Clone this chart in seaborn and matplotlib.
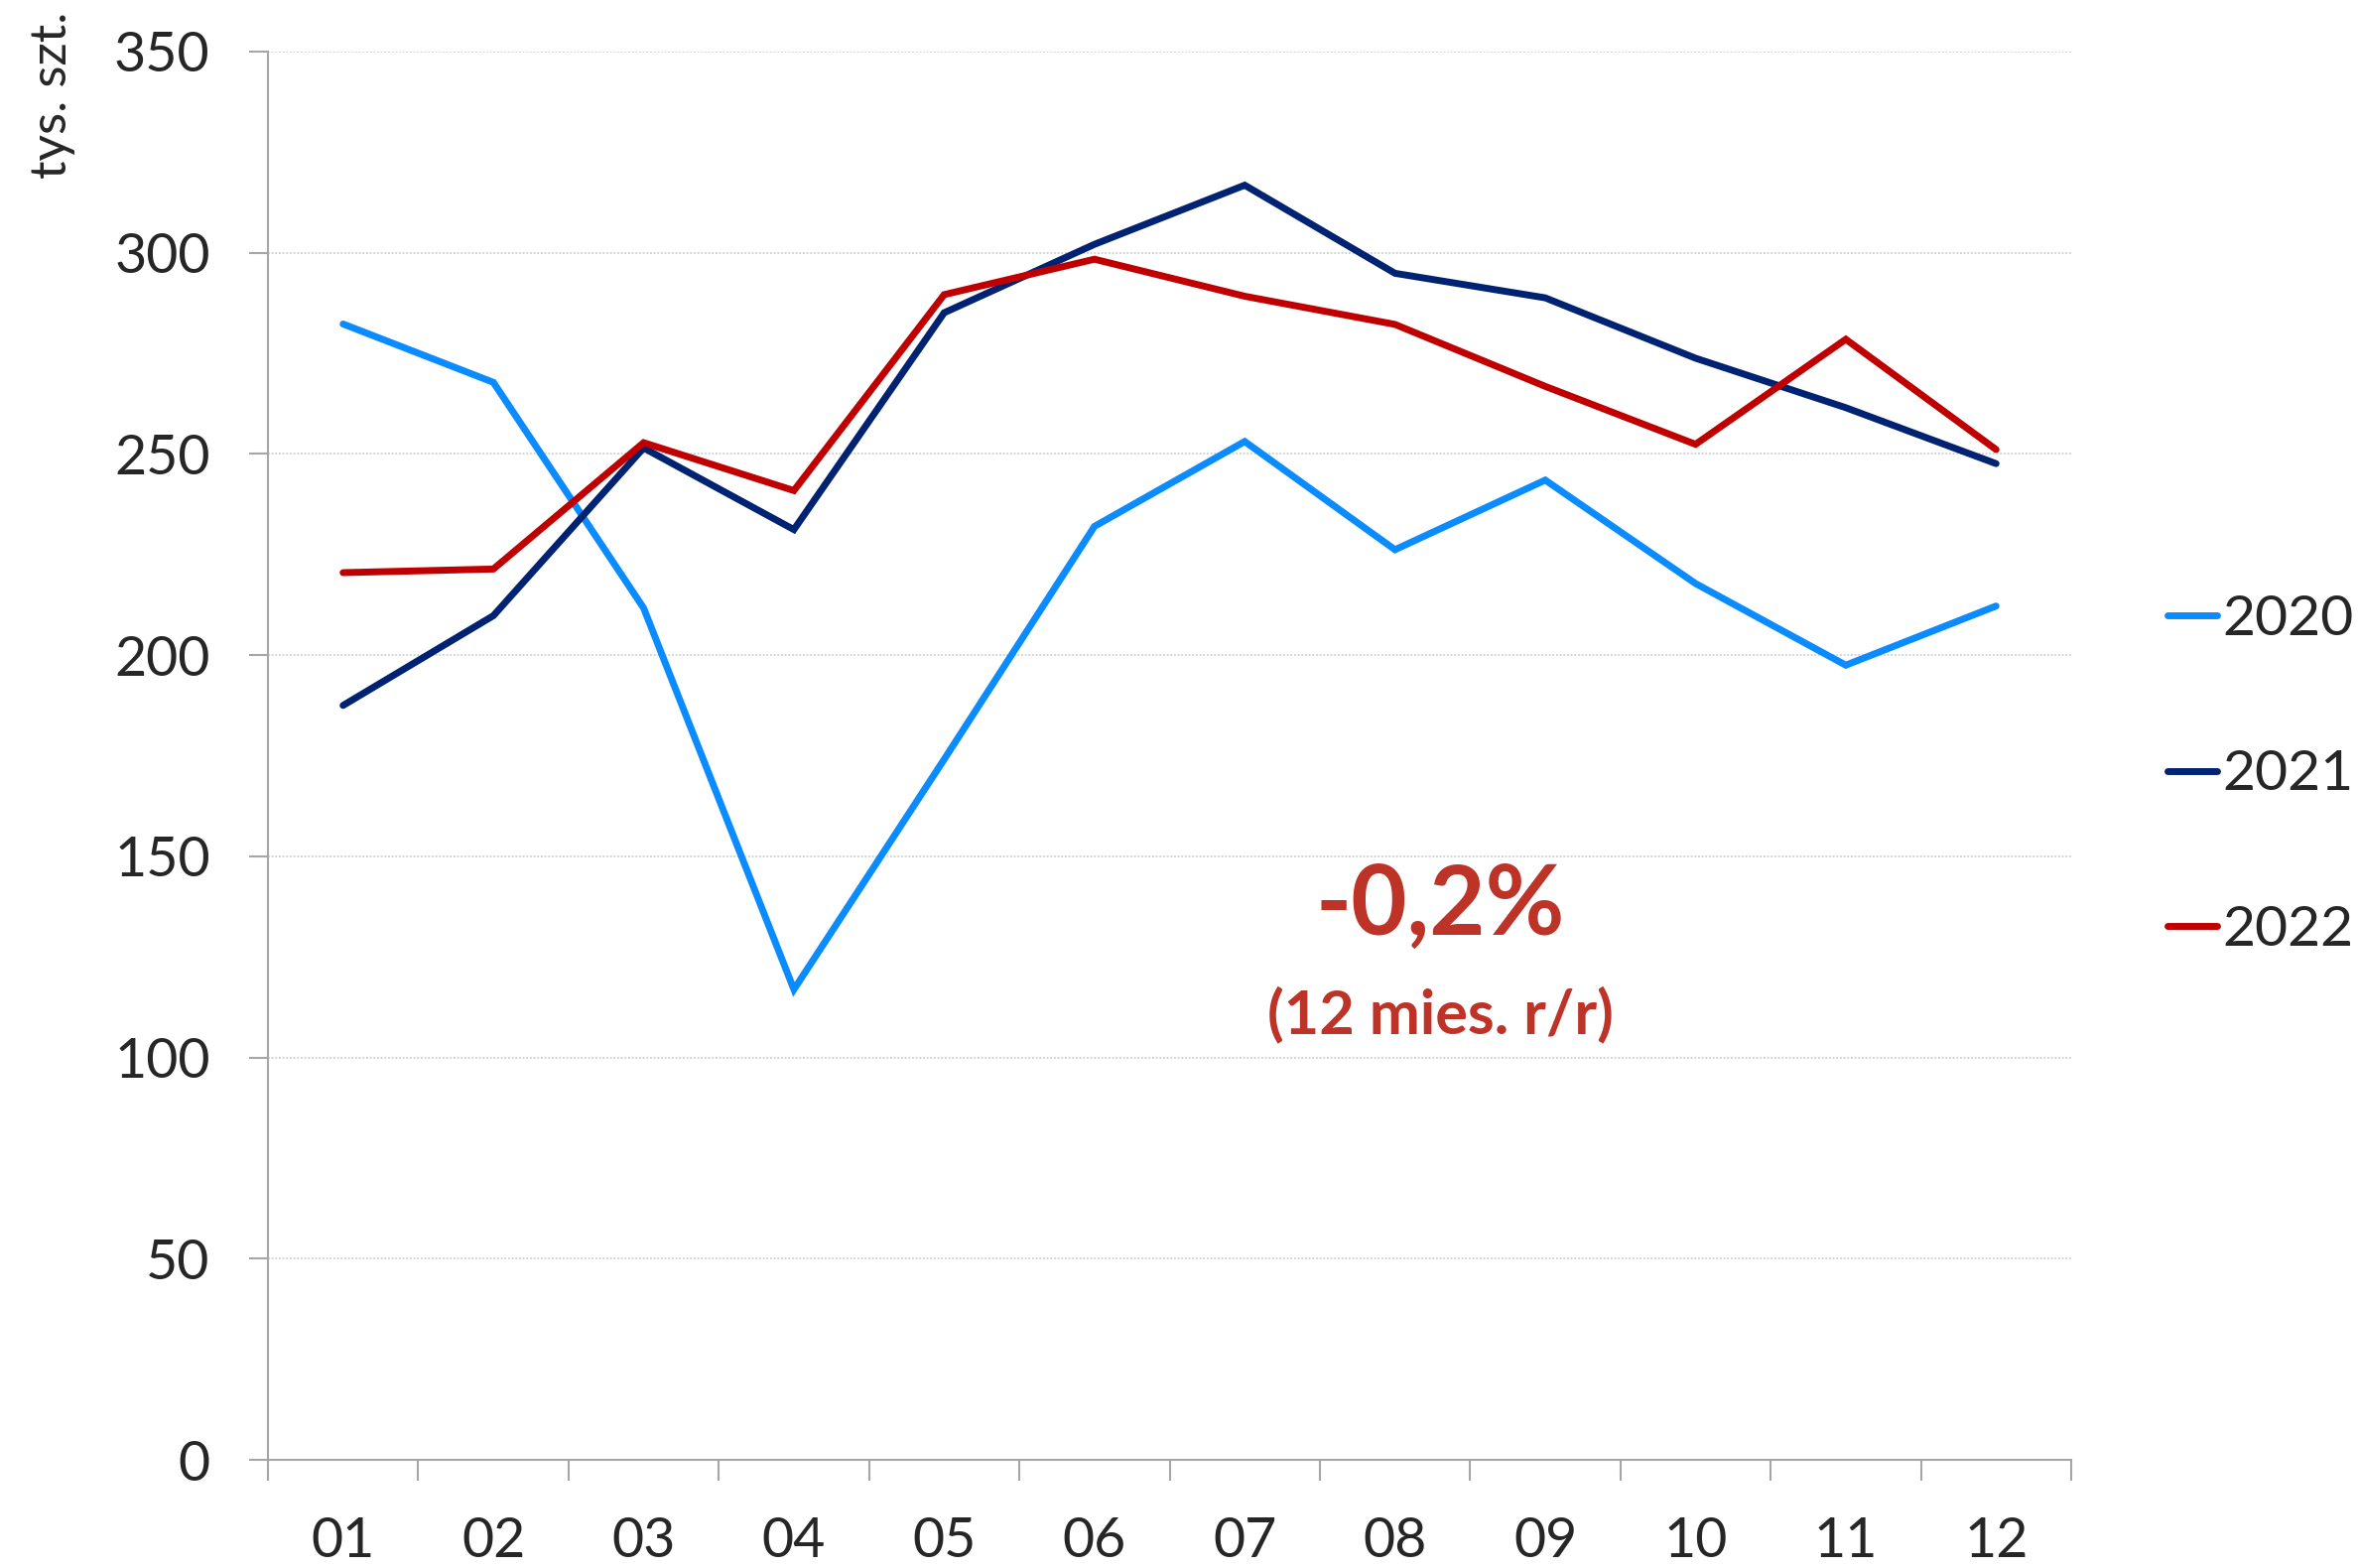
import pandas as pd
import numpy as np
import matplotlib
matplotlib.use("Agg")
import matplotlib.pyplot as plt
import seaborn as sns

# values (tys. szt.)
months = ["01", "02", "03", "04", "05", "06", "07", "08", "09", "10", "11", "12"]
years = ["2020", "2021", "2022"]
v2020 = [282.3, 267.8, 211.7, 116.9, 174.1, 232.0, 253.1, 226.2, 243.5, 217.8, 197.5, 212.2]
v2021 = [187.5, 209.8, 251.5, 231.2, 285.1, 302.1, 316.8, 294.9, 288.8, 273.8, 261.5, 247.6]
v2022 = [220.5, 221.4, 252.8, 240.9, 289.6, 298.4, 289.2, 282.2, 266.8, 252.4, 278.5, 251.1]
colors = {"2020": "#0A8CFF", "2021": "#002272", "2022": "#C00000"}

df = pd.DataFrame({
    "month": months * 3,
    "year": [y for y in years for _ in months],
    "value": v2020 + v2021 + v2022,
})

sns.set_style("white")
plt.rcParams["font.family"] = ["Lato", "DejaVu Sans"]

fig = plt.figure(figsize=(23.78, 15.80), dpi=100)
ax = fig.add_axes([270 / 2378, 1 - 1471 / 1580, (2087 - 270) / 2378, (1471 - 52) / 1580])

sns.lineplot(data=df, x="month", y="value", hue="year", palette=colors,
             linewidth=5.0, sort=False, ax=ax)
for ln in ax.lines:
    ln.set_solid_capstyle("round")
    ln.set_solid_joinstyle("miter")

ax.set_xlim(-0.5, 11.5)
ax.set_ylim(0, 350)
ax.set_yticks(np.arange(0, 351, 50))
ax.set_xticks(range(12))
ax.set_xticklabels(months)
ax.set_xticks(np.arange(-0.5, 12, 1), minor=True)
ax.set_xlabel("")
ax.set_ylabel("")

ax.grid(axis="y", color="#C8C8C8", linestyle=(0, (1.2, 1.2)), linewidth=1.1)
ax.grid(axis="x", visible=False)
ax.set_axisbelow(True)

for s in ["top", "right"]:
    ax.spines[s].set_visible(False)
for s in ["left", "bottom"]:
    ax.spines[s].set_color("#A6A6A6")
    ax.spines[s].set_linewidth(1.5)

ax.tick_params(axis="y", which="major", direction="out", length=14, width=1.5,
               color="#A6A6A6", labelsize=40, pad=28, left=True)
ax.tick_params(axis="x", which="major", length=0, labelsize=40, pad=41)
ax.tick_params(axis="x", which="minor", direction="out", length=15, width=1.5,
               color="#A6A6A6", bottom=True)

fig.text(53 / 2378, 1 - 12 / 1580, "tys. szt.", rotation=90, ha="center", va="top",
         fontsize=37)

ax.text(7.3, 130.5, "-0,2%", ha="center", va="baseline", fontsize=70,
        fontweight="bold", color="#BD3327")
ax.text(7.3, 106, "(12 mies. r/r)", ha="center", va="baseline", fontsize=44,
        fontweight="bold", color="#BD3327")

handles, labels = ax.get_legend_handles_labels()
ax.legend(handles, labels, loc="center left", bbox_to_anchor=(2184 / 2378, 1 - 781 / 1580),
          bbox_transform=fig.transFigure, frameon=False, fontsize=41,
          handlelength=0.88, handletextpad=0.1, labelspacing=1.85,
          borderpad=0, borderaxespad=0)

plt.savefig("out.png", dpi=100)
